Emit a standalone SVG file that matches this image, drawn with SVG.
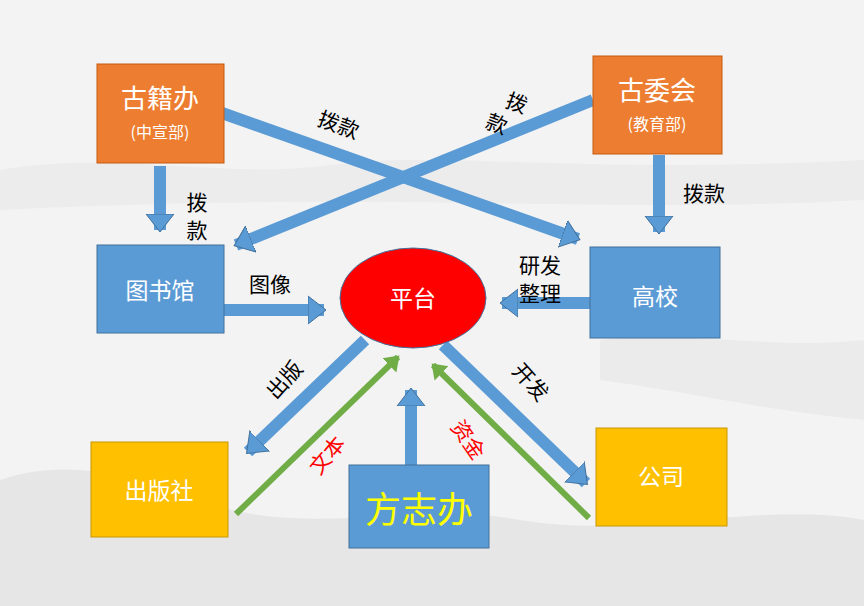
<svg xmlns="http://www.w3.org/2000/svg" width="864" height="606" viewBox="0 0 864 606">
<defs>
<style>
.t{font-family:"Noto Sans CJK SC","Liberation Sans",sans-serif;text-anchor:middle}
.w{fill:#fff}
.k{fill:#000;font-size:21px}
.r{fill:#ff0000;font-size:21px}
.b{stroke:#5B9BD5;stroke-width:12;fill:none}
.g{stroke:#70AD47;stroke-width:6;fill:none}
</style>
<marker id="ab" markerUnits="userSpaceOnUse" markerWidth="34" markerHeight="34" refX="16" refY="17" orient="auto" viewBox="0 0 34 34"><path d="M0,3 L18,17 L0,31 Z" fill="#5B9BD5" stroke="#41719C" stroke-width="1"/></marker>
<marker id="ag" markerUnits="userSpaceOnUse" markerWidth="24" markerHeight="24" refX="12" refY="12" orient="auto" viewBox="0 0 24 24"><path d="M0,2 L14,12 L0,22 Z" fill="#70AD47"/></marker>
</defs>
<rect width="864" height="606" fill="#f3f3f3"/>
<path d="M0,170 C120,150 220,180 330,165 C450,150 560,175 864,160 L864,200 C600,215 400,190 0,210 Z" fill="#ececec"/>
<path d="M0,480 C60,460 120,470 200,500 C300,540 420,500 520,520 C640,540 760,500 864,520 L864,606 L0,606 Z" fill="#e6e6e6"/>
<path d="M600,340 C680,330 780,350 864,340 L864,420 C760,410 680,390 600,380 Z" fill="#ebebeb"/>
<g id="connectors">
<line class="b" x1="160" y1="166" x2="160" y2="230" marker-end="url(#ab)"/>
<line class="b" x1="222" y1="113" x2="578" y2="239" marker-end="url(#ab)"/>
<line class="b" x1="593" y1="100" x2="236" y2="245" marker-end="url(#ab)"/>
<line class="b" x1="659" y1="155" x2="659" y2="232" marker-end="url(#ab)"/>
<line class="b" x1="224" y1="310" x2="324" y2="310" marker-end="url(#ab)"/>
<line class="b" x1="590" y1="303" x2="502" y2="303" marker-end="url(#ab)"/>
<line class="b" x1="365" y1="340" x2="248" y2="452" marker-end="url(#ab)"/>
<line class="b" x1="443" y1="345" x2="586" y2="483" marker-end="url(#ab)"/>
<line class="b" x1="411" y1="465" x2="411" y2="390" marker-end="url(#ab)"/>
<line class="g" x1="236" y1="514" x2="398" y2="357" marker-end="url(#ag)"/>
<line class="g" x1="589" y1="518" x2="433" y2="365" marker-end="url(#ag)"/>
</g>
<g id="labels" class="t">
<text class="k" transform="translate(336,132) rotate(20)">拨款</text>
<text class="k" x="197" y="210">拨</text>
<text class="k" x="197" y="238">款</text>
<text class="k" x="704" y="201">拨款</text>
<text class="k" transform="translate(514,110) rotate(20)">拨</text>
<text class="k" transform="translate(494,131) rotate(20)">款</text>
<text class="k" x="270" y="292">图像</text>
<text class="k" x="540" y="273">研发</text>
<text class="k" x="540" y="301">整理</text>
<text class="k" transform="translate(290,385) rotate(-48)">出版</text>
<text class="k" transform="translate(525,387) rotate(48)">开发</text>
<text class="r" transform="translate(333,460) rotate(-50)">文本</text>
<text class="r" transform="translate(462,444) rotate(55)">资金</text>
</g>
<g id="gujiban"><rect x="97" y="64" width="127" height="99" fill="#ED7D31" stroke="#C55A11"/><text class="t w" x="160" y="108" font-size="26">古籍办</text><text class="t w" x="160" y="138" font-size="16">(中宣部)</text></g>
<g id="guweihui"><rect x="593" y="56" width="129" height="98" fill="#ED7D31" stroke="#C55A11"/><text class="t w" x="657" y="100" font-size="26">古委会</text><text class="t w" x="657" y="130" font-size="16">(教育部)</text></g>
<g id="tushuguan"><rect x="97" y="245" width="127" height="88" fill="#5B9BD5" stroke="#41719C"/><text class="t w" x="160" y="299" font-size="23">图书馆</text></g>
<g id="gaoxiao"><rect x="590" y="247" width="130" height="91" fill="#5B9BD5" stroke="#41719C"/><text class="t w" x="655" y="305" font-size="23">高校</text></g>
<g id="pingtai"><ellipse cx="413" cy="298" rx="73" ry="50" fill="#ff0000" stroke="#41719C"/><text class="t w" x="413" y="307" font-size="23">平台</text></g>
<g id="chubanshe"><rect x="91" y="442" width="137" height="95" fill="#FFC000" stroke="#C99700"/><text class="t w" x="159" y="499" font-size="23">出版社</text></g>
<g id="fangzhiban"><rect x="349" y="465" width="140" height="83" fill="#5B9BD5" stroke="#41719C"/><text class="t" x="419" y="523" font-size="36" fill="#ffff00">方志办</text></g>
<g id="gongsi"><rect x="596" y="428" width="131" height="98" fill="#FFC000" stroke="#C99700"/><text class="t w" x="661" y="485" font-size="23">公司</text></g>
</svg>
